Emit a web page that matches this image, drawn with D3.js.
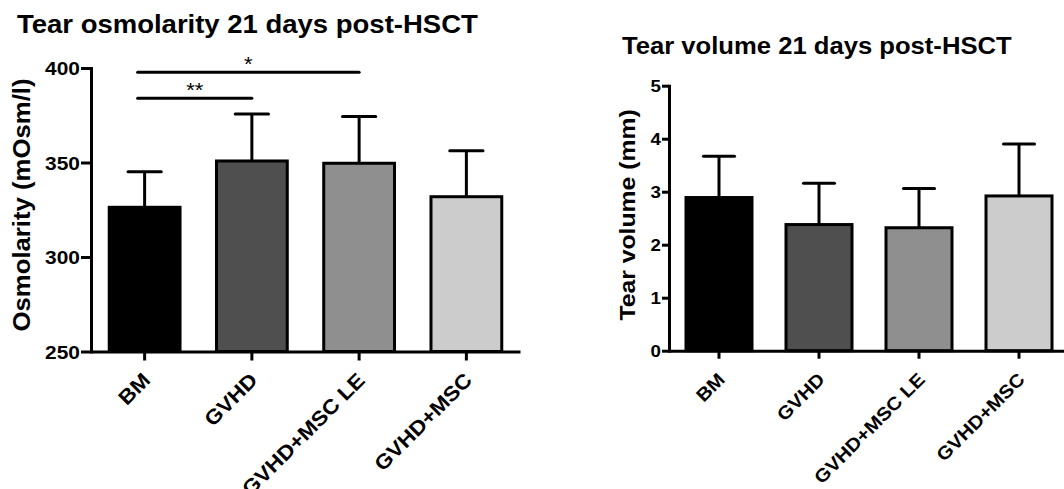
<!DOCTYPE html>
<html>
<head>
<meta charset="utf-8">
<script src="https://cdn.jsdelivr.net/npm/d3@7"></script>
<style>
  html, body { margin: 0; padding: 0; background: #fff; }
  svg { display: block; }
  text { font-family: "Liberation Sans", Arial, sans-serif; fill: #000; }
</style>
</head>
<body>
<div id="chart"></div>
<script>
// data
const categories = ["BM", "GVHD", "GVHD+MSC LE", "GVHD+MSC"];
const barColors = ["#000000", "#4f4f4f", "#8f8f8f", "#cccccc"];

const osmMean = [326.3, 350.8, 349.6, 331.9];
const osmSD = [18.8, 24.9, 24.8, 24.3];
const osmTicks = [250, 300, 350, 400];
const osmSig = [
  { from: 0, to: 2, value: 397.7, label: "*" },
  { from: 0, to: 1, value: 384, label: "**" }
];

const volMean = [2.89, 2.38, 2.32, 2.92];
const volSD = [0.78, 0.78, 0.74, 0.98];
const volTicks = [0, 1, 2, 3, 4, 5];

// prism text looks a bit wider than Arial, stretch it along the baseline
const SX = 1.1;

const width = 1064, height = 489;
const svg = d3.select("#chart").append("svg")
  .attr("width", width)
  .attr("height", height);

function drawPanel(p) {
  const x = d3.scaleBand().domain(categories).range(p.xRange);
  const y = d3.scaleLinear().domain(p.yDomain).range(p.yRange);
  const bw = x.bandwidth();
  const cx = (i) => x(categories[i]) + bw / 2;
  const g = svg.append("g");

  // title
  g.append("text")
    .attr("transform", `translate(${p.titleX},${p.titleY}) scale(${SX},1)`)
    .style("font-size", p.titleSize + "px")
    .style("font-weight", "bold")
    .text(p.title);

  // y label
  g.append("text")
    .attr("transform", `translate(${p.ylabX},${p.ylabY}) rotate(-90) scale(${SX},1)`)
    .style("text-anchor", "middle")
    .style("font-size", p.ylabSize + "px")
    .style("font-weight", "bold")
    .text(p.ylabel);

  // bars
  g.selectAll("rect.bar")
    .data(p.means)
    .enter()
    .append("rect")
    .attr("class", "bar")
    .attr("x", (d, i) => cx(i) - bw * 0.33)
    .attr("width", bw * 0.66)
    .attr("y", d => y(d))
    .attr("height", d => y(p.yDomain[0]) - y(d))
    .attr("fill", (d, i) => barColors[i])
    .attr("stroke", "#000")
    .attr("stroke-width", 3);

  // upper error bars
  const err = g.selectAll("g.err")
    .data(p.means)
    .enter()
    .append("g")
    .attr("class", "err");
  err.append("line")
    .attr("x1", (d, i) => cx(i)).attr("x2", (d, i) => cx(i))
    .attr("y1", d => y(d))
    .attr("y2", (d, i) => y(d + p.sd[i]))
    .attr("stroke", "#000").attr("stroke-width", 3);
  err.append("line")
    .attr("x1", (d, i) => cx(i) - bw * 0.155)
    .attr("x2", (d, i) => cx(i) + bw * 0.155)
    .attr("y1", (d, i) => y(d + p.sd[i]))
    .attr("y2", (d, i) => y(d + p.sd[i]))
    .attr("stroke", "#000").attr("stroke-width", 3)
    .attr("stroke-linecap", "round");

  // y axis
  const yAxis = g.append("g")
    .attr("transform", `translate(${p.xRange[0]},0)`)
    .call(d3.axisLeft(y).tickValues(p.ticks).tickFormat(d3.format("d"))
      .tickSize(p.tickLen).tickSizeOuter(0));
  yAxis.attr("font-family", null).attr("font-size", null);
  yAxis.select(".domain").attr("stroke-width", 3).attr("stroke-linecap", "square");
  yAxis.selectAll(".tick line").attr("stroke-width", 3);
  yAxis.selectAll(".tick text")
    .attr("x", 0)
    .attr("dy", "0.36em")
    .attr("transform", `translate(${-p.tickLen - 1},0) scale(${SX},1)`)
    .style("font-size", p.tickSize + "px")
    .style("font-weight", "bold");

  // x axis
  const xAxis = g.append("g")
    .attr("transform", `translate(0,${p.yRange[0]})`)
    .call(d3.axisBottom(x).tickSize(p.xTickLen).tickSizeOuter(0));
  xAxis.attr("font-family", null).attr("font-size", null);
  xAxis.select(".domain").attr("stroke-width", 3);
  xAxis.selectAll(".tick line").attr("stroke-width", 3);
  xAxis.selectAll(".tick text")
    .attr("x", null).attr("y", null).attr("dy", null)
    .attr("transform", `translate(7,30) rotate(-45) scale(${SX},1)`)
    .style("text-anchor", "end")
    .style("font-size", p.catSize + "px")
    .style("font-weight", "bold");

  // significance bars
  if (p.sig) {
    const s = g.selectAll("g.sig")
      .data(p.sig)
      .enter()
      .append("g")
      .attr("class", "sig");
    s.append("line")
      .attr("x1", d => cx(d.from) - 7)
      .attr("x2", d => cx(d.to))
      .attr("y1", d => y(d.value))
      .attr("y2", d => y(d.value))
      .attr("stroke", "#000").attr("stroke-width", 3)
      .attr("stroke-linecap", "round");
    s.append("text")
      .attr("transform", d => `translate(${(cx(d.from) - 7 + cx(d.to)) / 2},${y(d.value) - 1}) scale(${SX},1)`)
      .style("text-anchor", "middle")
      .style("font-size", "20px")
      .text(d => d.label);
  }
}

drawPanel({
  title: "Tear osmolarity 21 days post-HSCT",
  titleX: 17, titleY: 33, titleSize: 25,
  ylabel: "Osmolarity (mOsm/l)",
  ylabX: 30, ylabY: 205, ylabSize: 23.4,
  xRange: [91, 520], yRange: [351.5, 68], yDomain: [250, 400],
  ticks: osmTicks, tickLen: 10, tickSize: 19, xTickLen: 9, catSize: 20.5,
  means: osmMean, sd: osmSD, sig: osmSig
});

drawPanel({
  title: "Tear volume 21 days post-HSCT",
  titleX: 622, titleY: 54.3, titleSize: 23.3,
  ylabel: "Tear volume (mm)",
  ylabX: 635, ylabY: 215, ylabSize: 22.5,
  xRange: [669, 1069], yRange: [350.7, 85.7], yDomain: [0, 5],
  ticks: volTicks, tickLen: 7, tickSize: 17, xTickLen: 8, catSize: 18.5,
  means: volMean, sd: volSD
});
</script>
</body>
</html>
